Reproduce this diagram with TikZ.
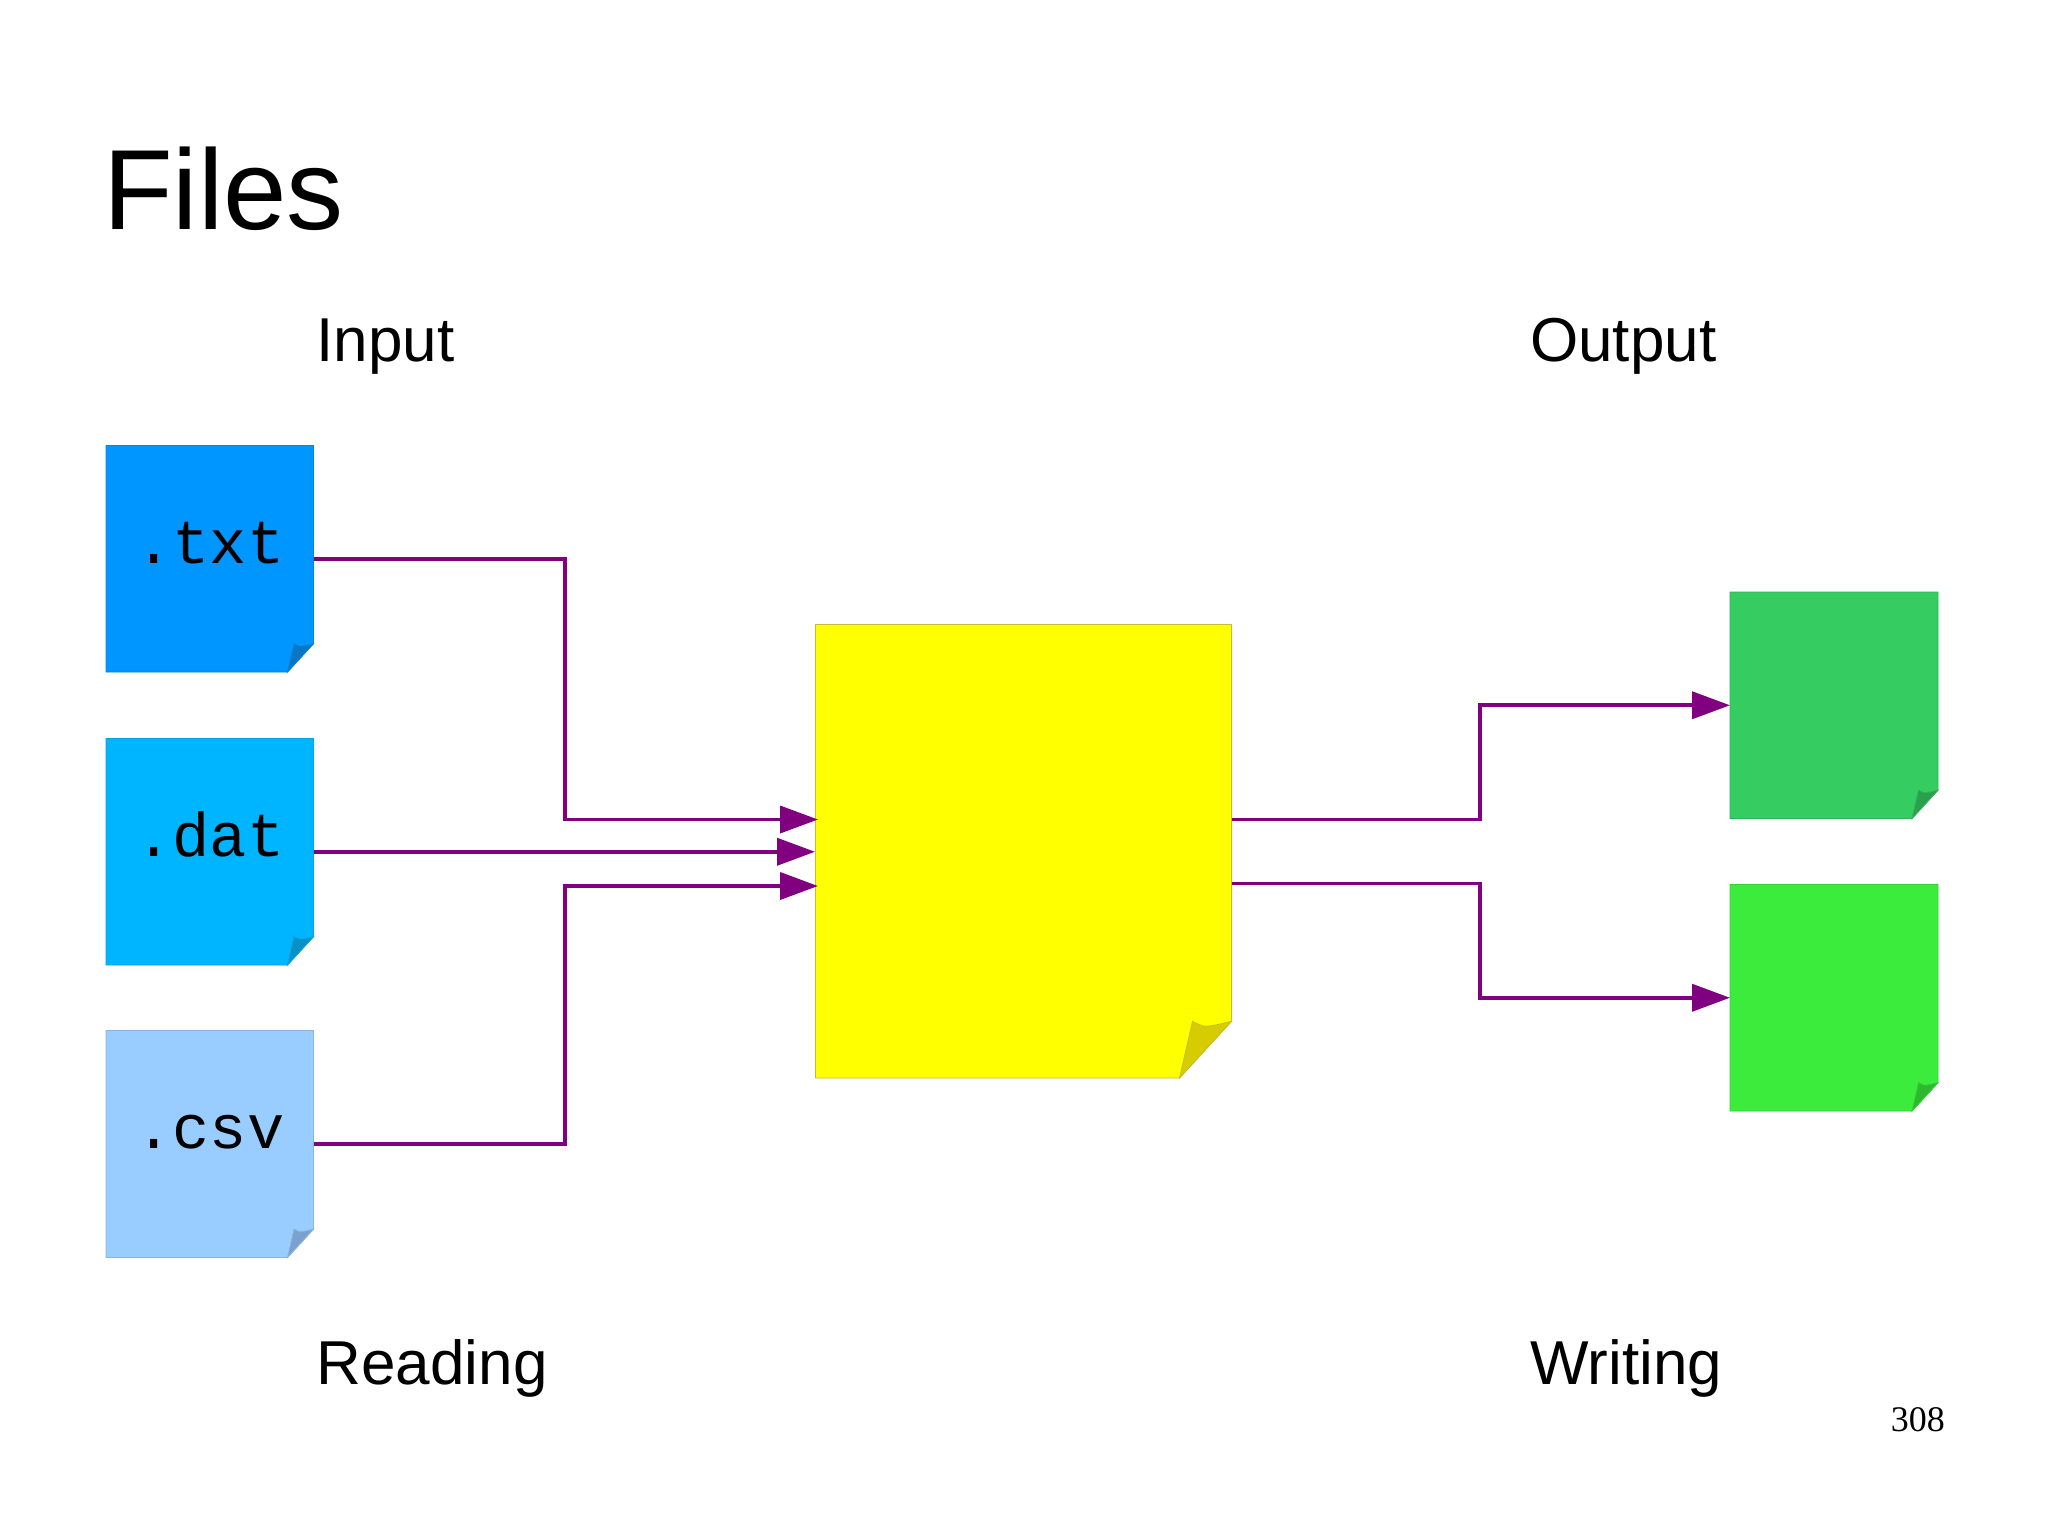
\documentclass[tikz,border=0pt]{standalone}
\usepackage{fontspec}
\setmainfont{Liberation Sans}
\newfontfamily\monof{Liberation Mono}
\newfontfamily\seriff{Liberation Serif}
\usetikzlibrary{arrows.meta}
\definecolor{pur}{HTML}{800080}
\definecolor{txtfill}{HTML}{0096FF}
\definecolor{txtedge}{HTML}{0A84DC}
\definecolor{txtfold}{HTML}{0A76C4}
\definecolor{datfill}{HTML}{00B5FF}
\definecolor{datedge}{HTML}{0AA2E0}
\definecolor{datfold}{HTML}{0A90C6}
\definecolor{csvfill}{HTML}{99CCFF}
\definecolor{csvedge}{HTML}{8AB4E0}
\definecolor{csvfold}{HTML}{7AA2CC}
\definecolor{yelfill}{HTML}{FFFF00}
\definecolor{yeledge}{HTML}{C0C030}
\definecolor{yelfold}{HTML}{D6CC00}
\definecolor{gafill}{HTML}{35CC62}
\definecolor{gaedge}{HTML}{30B458}
\definecolor{gafold}{HTML}{2AA04E}
\definecolor{gbfill}{HTML}{3CEC3C}
\definecolor{gbedge}{HTML}{36D036}
\definecolor{gbfold}{HTML}{2EB82E}
\tikzset{
  link/.style={draw=pur,line width=3.8pt},
  linkarrow/.style={link,-{Triangle[length=38pt,width=27pt,fill=pur]}},
  lbl/.style={inner sep=0pt,anchor=base west,font=\fontsize{62}{70}\selectfont},
  filetext/.style={inner sep=0pt,anchor=base,font=\monof\fontsize{62}{70}\selectfont},
}
% \foldpage{name}{left}{top}{right}{bottom}{colour prefix}{fold size}
\newcommand{\foldpage}[7]{%
  \fill[#6fill,draw=#6edge,line width=0.8pt] (#2,-#5) -- (#2,-#3) -- (#4,-#3) -- (#4,-#5+#7*1.09) -- (#4-#7,-#5) -- cycle;
  \fill[#6fold,draw=#6edge,line width=0.8pt] (#4-#7,-#5) -- (#4,-#5+#7*1.09)
     .. controls (#4-#7*0.2,-#5+#7*1.05) and (#4-#7*0.4,-#5+#7*0.98) .. (#4-#7*0.55,-#5+#7*1.0)
     .. controls (#4-#7*0.62,-#5+#7*1.02) and (#4-#7*0.68,-#5+#7*1.06) .. (#4-#7*0.75,-#5+#7*1.09) -- cycle;
  \pgfmathsetmacro{\pw}{#4-#2}\pgfmathsetmacro{\ph}{#5-#3}%
  \node[inner sep=0pt,outer sep=0pt,minimum width=\pw pt,minimum height=\ph pt] (#1) at ({(#2+#4)/2},{-(#3+#5)/2}) {};
}
\begin{document}
\begin{tikzpicture}[x=1pt,y=1pt]
\useasboundingbox (0,0) rectangle (2048,-1535);
\fill[white] (0,0) rectangle (2048,-1535);

\node[inner sep=0pt,anchor=base west,font=\fontsize{114}{122}\selectfont] (title) at (103,-229) {Files};
\node[lbl] (input) at (316.5,-361) {Input};
\node[lbl] (output) at (1530,-361) {Output};
\node[lbl] (reading) at (316.5,-1384) {Reading};
\node[lbl] (writing) at (1530,-1384) {Writing};
\node[inner sep=0pt,anchor=base east,font=\seriff\fontsize{36}{40}\selectfont] (pageno) at (1945,-1431) {308};

\foldpage{txt}{106}{445.5}{313.5}{672}{txt}{26}
\foldpage{dat}{106}{738.5}{313.5}{965}{dat}{26}
\foldpage{csv}{106}{1030.5}{313.5}{1257.5}{csv}{26}
\foldpage{prog}{815.5}{624.5}{1231.5}{1078}{yel}{52}
\foldpage{outa}{1730}{592}{1938}{818.5}{ga}{26}
\foldpage{outb}{1730}{884.5}{1938}{1111}{gb}{26}

\node[filetext] (txtlabel) at (210,-563) {.txt};
\node[filetext] (datlabel) at (210,-856) {.dat};
\node[filetext] (csvlabel) at (210,-1148) {.csv};

\coordinate (ina) at (818,-819.5);
\coordinate (inc) at (818,-886);
\coordinate (outp) at (1232,-819.5);
\coordinate (outq) at (1232,-883.5);
\coordinate (busl) at (565,0);
\coordinate (busr) at (1480,0);

\draw[linkarrow] (txt.east) -| (busl |- ina) -- (ina);
\draw[linkarrow] (dat.east) -- ++(501.5,0) coordinate (inb);
\draw[linkarrow] (csv.east) -| (busl |- inc) -- (inc);
\draw[linkarrow] (outp) -| (busr |- outa.west) -- (outa.west);
\draw[linkarrow] (outq) -| (busr |- outb.west) -- (outb.west);
\end{tikzpicture}
\end{document}
